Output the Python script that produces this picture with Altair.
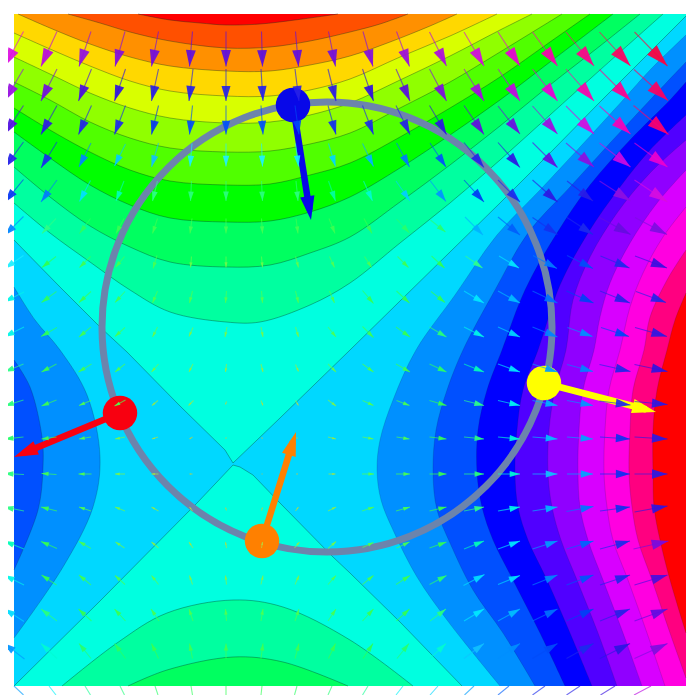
import math
import altair as alt
import pandas as pd

LEFT, RIGHT, TOP, BOTTOM = 14, 686, 14, 686
XS = alt.Scale(domain=[8, 692], nice=False, zero=False)
YS = alt.Scale(domain=[695, 8], nice=False, zero=False)

BASE_COLOR = "#00d8ff"

# contour levels hanging from the top edge: (colour, [(x, y), ...])
TOP_LEVELS = [
    ("#00ffe0", "linear", [(14,240),(60,287),(100,327),(127,352),(180,406),(225,450),(233,463),(280,418),(350,350),(400,301),(450,252),(500,203),(550,153),(600,102),(650,52),(686,16)]),
    ("#00ffa0", "catmull-rom", [(14,203),(50,233),(90,262),(130,290),(170,312),(226,322),(260,322),(310,305),(350,283),(400,243),(450,203),(500,160),(550,115),(600,70),(663,14)]),
    ("#00ff60", "catmull-rom", [(14,167),(50,197),(90,226),(130,247),(170,262),(226,267),(270,265),(310,253),(350,237),(400,202),(450,165),(500,126),(550,85),(600,46),(640,14)]),
    ("#00ff00", "catmull-rom", [(14,132),(50,158),(90,185),(130,205),(170,218),(226,222),(270,221),(310,212),(350,197),(400,168),(450,135),(500,100),(550,62),(613,14)]),
    ("#50ff00", "catmull-rom", [(14,108),(50,130),(90,152),(130,170),(170,181),(226,185),(270,184),(310,175),(350,163),(400,137),(450,108),(500,77),(550,42),(590,14)]),
    ("#90ff00", "catmull-rom", [(14,82),(50,100),(90,122),(130,138),(170,148),(226,152),(270,151),(310,144),(350,133),(400,108),(450,82),(500,52),(562,14)]),
    ("#d8ff00", "catmull-rom", [(14,57),(50,74),(90,93),(130,108),(170,118),(226,123),(270,122),(310,115),(350,103),(400,80),(450,56),(500,30),(532,14)]),
    ("#ffd800", "catmull-rom", [(14,33),(50,49),(90,66),(130,81),(170,91),(226,96),(270,96),(310,90),(350,79),(400,57),(450,36),(497,14)]),
    ("#ff9000", "catmull-rom", [(18,14),(50,28),(90,44),(130,57),(170,66),(226,71),(270,71),(310,65),(350,56),(390,42),(430,26),(457,14)]),
    ("#ff5000", "catmull-rom", [(68,14),(100,23),(130,32),(170,41),(226,48),(270,47),(310,41),(350,32),(380,24),(408,14)]),
    ("#ff0000", "catmull-rom", [(138,14),(170,20),(200,23),(226,25),(260,24),(295,20),(338,14)]),
]

# contour levels standing on the bottom edge
BOTTOM_LEVELS = [
    ("#00ffe0", "linear", [(14,686),(100,601),(197,503),(233,465),(240,467),(253,475),(280,503),(333,557),(350,573),(400,622),(462,686)]),
    ("#00ffa0", "catmull-rom", [(62,686),(117,643),(167,613),(233,600),(283,607),(350,640),(413,686)]),
    ("#00ff60", "catmull-rom", [(128,686),(167,670),(233,657),(283,662),(348,686)]),
]

# contour levels reaching to the right edge: (colour, [(x, y), ...])
RIGHT_LEVELS = [
    ("#0090ff", [(686,35),(650,70),(623,100),(580,147),(540,190),(497,235),(455,295),(416,350),(393,400),(380,440),(377,470),(381,500),(393,530),(417,577),(447,620),(473,653),(500,686)]),
    ("#0050ff", [(686,62),(650,100),(610,143),(570,187),(528,233),(495,290),(463,350),(447,390),(436,430),(433,473),(437,510),(450,543),(473,590),(503,633),(535,686)]),
    ("#0000ff", [(686,82),(670,100),(630,140),(590,185),(557,233),(525,290),(502,350),(487,390),(478,430),(477,473),(482,507),(493,540),(513,580),(540,633),(565,686)]),
    ("#5000ff", [(686,115),(650,150),(620,187),(588,233),(560,285),(538,350),(523,390),(517,430),(515,473),(518,507),(528,540),(547,580),(570,633),(592,686)]),
    ("#9000ff", [(686,140),(650,173),(617,213),(590,257),(573,300),(566,350),(555,390),(549,430),(548,473),(552,507),(561,540),(577,580),(598,633),(617,686)]),
    ("#d800ff", [(686,170),(657,203),(630,243),(610,283),(600,317),(594,350),(583,390),(579,430),(578,473),(580,507),(588,540),(603,580),(623,633),(642,686)]),
    ("#ff00e0", [(686,207),(663,237),(643,273),(630,307),(620,350),(609,390),(605,430),(604,473),(607,507),(613,540),(628,580),(647,633),(665,686)]),
    ("#ff0080", [(686,250),(667,280),(650,317),(644,350),(633,390),(630,430),(629,473),(632,507),(638,540),(652,580),(670,633),(686,678)]),
    ("#ff0000", [(686,293),(675,320),(667,350),(657,390),(653,430),(653,473),(654,507),(660,540),(670,580),(686,633)]),
]

# contour levels reaching to the left edge
LEFT_LEVELS = [
    ("#0090ff", [(14,287),(35,320),(60,350),(87,395),(100,457),(93,507),(63,567),(14,638)]),
    ("#0050ff", [(14,360),(30,387),(42,437),(43,467),(38,510),(14,570)]),
]

RING = {"x": 327, "y": 327, "diameter": 450}

# the four large arrows: ball position, arrow tip, colour
BIG_X = [293, 120, 262, 544]
BIG_Y = [105, 413, 541, 383]
TIP_X = [311, 14, 296, 656]
TIP_Y = [220, 457, 432, 412]
BIG_COLOR = ["#0808e8", "#f80010", "#ff8000", "#ffff00"]

GRID_X = [14,49,85,120,155,191,226,262,297,332,368,403,438,474,509,545,580,615,651]
GRID_Y = [49,85,120,155,191,226,262,297,332,368,403,438,474,509,545,580,615,651]

DX = [
 [-19,-16,-12,-10,-7,-3,0,1,3,7,10,13,17,20,22,25,28,31,33],
 [-19,-16,-13,-11,-7,-4,0,2,4,8,11,14,17,20,22,25,28,31,34],
 [-19,-16,-13,-11,-7,-3,0,2,4,8,11,14,17,20,22,25,28,31,35],
 [-19,-16,-12,-11,-7,-2,0,1,3,7,11,13,16,20,22,25,28,31,33],
 [-19,-16,-11,-8,-5,-1,0,1,2,7,9,14,16,20,22,25,26,31,33],
 [-19,-14,-11,-8,-5,-2,0,1,2,6,8,13,15,18,22,25,26,31,32],
 [-19,-14,-11,-9,-4,-1,0,1,3,5,7,11,13,17,20,24,26,29,32],
 [-20,-15,-12,-10,-5,-3,-1,1,3,5,11,13,14,20,22,25,27,30,30],
 [-20,-16,-12,-10,-5,-4,-2,2,3,8,11,14,17,20,22,25,25,28,32],
 [-19,-15,-13,-10,-7,-4,-1,2,3,8,11,14,17,20,22,25,26,31,33],
 [-19,-15,-12,-11,-6,-5,-1,2,3,8,11,13,17,20,22,25,26,31,33],
 [-19,-15,-12,-10,-6,-3,-1,1,1,8,11,13,17,20,22,25,26,30,33],
 [-20,-15,-13,-10,-7,-3,0,1,2,7,12,14,17,20,22,25,26,30,33],
 [-20,-16,-12,-10,-7,-3,-1,1,3,8,12,14,17,20,22,25,27,30,33],
 [-20,-16,-12,-9,-7,-4,-1,1,5,8,11,13,17,20,22,25,27,30,35],
 [-20,-15,-12,-10,-7,-3,-1,2,4,8,11,14,17,21,22,25,27,30,33],
 [-20,-16,-13,-11,-8,-4,-1,2,4,8,11,13,16,20,22,25,27,30,33],
 [-21,-16,-12,-11,-7,-3,0,2,4,7,10,12,16,20,22,25,27,30,33],
]
DY = [
 [35,35,35,35,35,35,35,35,35,35,35,35,34,34,34,34,34,34,34],
 [32,32,32,32,32,32,32,32,32,32,32,32,32,32,32,32,32,31,31],
 [29,29,29,29,29,29,29,29,29,29,29,29,29,29,28,28,28,28,29],
 [26,26,24,22,24,23,23,23,23,23,23,24,24,25,25,25,24,24,24],
 [23,22,21,20,20,20,20,20,20,20,20,20,21,22,22,22,20,20,22],
 [19,15,15,15,15,15,15,15,15,15,15,14,12,18,18,17,17,17,17],
 [13,11,11,11,13,11,11,11,11,11,11,11,12,12,12,13,13,12,12],
 [10,11,11,11,12,12,12,12,12,12,13,12,11,12,12,12,12,12,11],
 [10,9,10,9,10,9,10,10,10,10,11,10,10,10,10,10,9,9,9],
 [8,8,8,8,8,8,8,8,7,8,8,8,8,8,8,8,7,7,7],
 [6,6,5,6,5,5,3,5,5,6,5,5,5,5,5,5,5,4,3],
 [2,2,2,2,2,2,1,1,1,2,2,2,2,2,2,2,2,2,2],
 [-1,-1,0,0,0,0,0,0,0,0,0,0,0,0,0,0,0,0,0],
 [-4,-4,-4,-4,-4,-4,-3,-3,-4,-4,-4,-4,-4,-4,-4,-4,-5,-4,-6],
 [-8,-7,-7,-6,-6,-6,-6,-6,-6,-7,-5,-6,-6,-8,-8,-8,-8,-8,-8],
 [-10,-10,-10,-9,-9,-9,-9,-9,-9,-9,-9,-9,-9,-11,-9,-10,-10,-10,-10],
 [-13,-12,-12,-12,-12,-12,-12,-12,-12,-12,-12,-12,-12,-12,-12,-12,-12,-12,-12],
 [-16,-15,-15,-15,-15,-15,-15,-15,-15,-15,-15,-15,-15,-15,-15,-15,-15,-15,-15],
]
# bottom row sits on the edge: only the part below the field shows
EDGE_DX = [-19,-14,-11,-9,-6,-3,0,2,5,8,11,14,16,19,22,25,27,29,34]
EDGE_DY = -18

LEN_DOMAIN = [0, 6, 12, 18, 21, 23, 25, 27, 30, 34, 37, 40, 43, 48]
LEN_COLORS = ["#d0c040", "#b0e040", "#50ff50", "#30ff50", "#30ff90", "#20f0ff", "#10c0ff", "#1080ff",
              "#1030f0", "#3010e0", "#9010e0", "#e010e0", "#ff10a0", "#ff0030"]
LEN_SCALE = alt.Scale(domain=LEN_DOMAIN, range=LEN_COLORS, clamp=True)
HEAD = "M0,-1L0.6,1L-0.6,1Z"

layers = [
    alt.Chart(pd.DataFrame({"a": [LEFT], "b": [RIGHT], "c": [TOP], "d": [BOTTOM]})).mark_rect(color=BASE_COLOR).encode(
        x=alt.X("a:Q", scale=XS, axis=None), x2="b:Q",
        y=alt.Y("c:Q", scale=YS, axis=None), y2="d:Q")
]


def vertical(color, interp, pts, edge):
    df = pd.DataFrame(pts, columns=["x", "y"])
    df["e"] = edge
    df["i"] = range(len(df))
    area = alt.Chart(df).mark_area(color=color, orient="vertical", interpolate=interp, opacity=1).encode(
        x=alt.X("x:Q", scale=XS, axis=None),
        y=alt.Y("y:Q", scale=YS, axis=None), y2="e:Q")
    line = alt.Chart(df).mark_line(color="#003020", strokeOpacity=0.45, strokeWidth=0.8, interpolate=interp).encode(
        x=alt.X("x:Q", scale=XS, axis=None),
        y=alt.Y("y:Q", scale=YS, axis=None), order="i:Q")
    return [area, line]


def horizontal(color, pts, edge, alpha):
    df = pd.DataFrame(pts, columns=["x", "y"])
    df["e"] = edge
    df["i"] = range(len(df))
    area = alt.Chart(df).mark_area(color=color, orient="horizontal", interpolate="catmull-rom", opacity=1).encode(
        x=alt.X("x:Q", scale=XS, axis=None), x2="e:Q",
        y=alt.Y("y:Q", scale=YS, axis=None))
    line = alt.Chart(df).mark_line(color="#002040", strokeOpacity=alpha, strokeWidth=0.8, interpolate="catmull-rom").encode(
        x=alt.X("x:Q", scale=XS, axis=None),
        y=alt.Y("y:Q", scale=YS, axis=None), order="i:Q")
    return [area, line]


for c, interp, pts in TOP_LEVELS:
    layers += vertical(c, interp, pts, TOP)
for c, interp, pts in BOTTOM_LEVELS:
    layers += vertical(c, interp, pts, BOTTOM)
for c, pts in RIGHT_LEVELS:
    layers += horizontal(c, pts, RIGHT, 0.2)
for c, pts in LEFT_LEVELS:
    layers += horizontal(c, pts, LEFT, 0.3)

# ring
layers.append(alt.Chart(pd.DataFrame([RING])).mark_point(
    filled=False, stroke="#6c84ac", strokeWidth=7, opacity=1, size=RING["diameter"] ** 2).encode(
    x=alt.X("x:Q", scale=XS, axis=None), y=alt.Y("y:Q", scale=YS, axis=None)))

# big arrows and balls
big = []
for bx, by, tx, ty, c in zip(BIG_X, BIG_Y, TIP_X, TIP_Y, BIG_COLOR):
    d = math.hypot(tx - bx, ty - by)
    ux, uy = (tx - bx) / d, (ty - by) / d
    big.append({"bx": bx, "by": by, "tx": tx - ux * 10, "ty": ty - uy * 10,
                "hx": tx - ux * 12, "hy": ty - uy * 12,
                "a": (math.degrees(math.atan2(ux, -uy)) + 360) % 360, "c": c})
big_df = pd.DataFrame(big)
layers.append(alt.Chart(big_df).mark_rule(strokeWidth=6.5).encode(
    x=alt.X("bx:Q", scale=XS, axis=None), y=alt.Y("by:Q", scale=YS, axis=None),
    x2="tx:Q", y2="ty:Q", color=alt.Color("c:N", scale=None)))
layers.append(alt.Chart(big_df).mark_point(shape=HEAD, filled=True, opacity=1, size=576, strokeWidth=0).encode(
    x=alt.X("hx:Q", scale=XS, axis=None), y=alt.Y("hy:Q", scale=YS, axis=None),
    angle=alt.Angle("a:Q", scale=None), color=alt.Color("c:N", scale=None)))
layers.append(alt.Chart(big_df).mark_circle(size=1190, opacity=1).encode(
    x=alt.X("bx:Q", scale=XS, axis=None), y=alt.Y("by:Q", scale=YS, axis=None),
    color=alt.Color("c:N", scale=None)))

# small arrows
rows = []
for j, gy in enumerate(GRID_Y):
    for i, gx in enumerate(GRID_X):
        dx, dy = DX[j][i], DY[j][i]
        m = math.hypot(dx, dy)
        if m == 0:
            continue
        hl = 0.47 * m
        rows.append({"x0": gx - dx / 2, "y0": gy - dy / 2, "x1": gx + dx / 2, "y1": gy + dy / 2,
                     "hx": gx + dx / 2 - dx / m * hl / 2, "hy": gy + dy / 2 - dy / m * hl / 2,
                     "m": m, "s": hl * hl, "a": (math.degrees(math.atan2(dx, -dy)) + 360) % 360})
arrows = pd.DataFrame(rows)
edge = []
for gx, dx in zip(GRID_X, EDGE_DX):
    m = math.hypot(dx, EDGE_DY)
    edge.append({"x0": gx - dx / 2, "y0": BOTTOM - EDGE_DY / 2, "x1": gx, "y1": BOTTOM, "m": m})
edge = pd.DataFrame(edge)
for df in (arrows, edge):
    layers.append(alt.Chart(df).mark_rule(strokeWidth=1.1, opacity=0.65).encode(
        x=alt.X("x0:Q", scale=XS, axis=None), y=alt.Y("y0:Q", scale=YS, axis=None),
        x2="x1:Q", y2="y1:Q", color=alt.Color("m:Q", scale=LEN_SCALE, legend=None)))
layers.append(alt.Chart(arrows).mark_point(shape=HEAD, filled=True, opacity=0.92, strokeWidth=0).encode(
    x=alt.X("hx:Q", scale=XS, axis=None), y=alt.Y("hy:Q", scale=YS, axis=None),
    size=alt.Size("s:Q", scale=None, legend=None), angle=alt.Angle("a:Q", scale=None),
    color=alt.Color("m:Q", scale=LEN_SCALE, legend=None)))

chart = alt.layer(*layers).properties(
    width=684, height=687, padding=0, background="white",
    autosize=alt.AutoSizeParams(type="none")).configure_view(stroke=None)
chart.save("out.html", embed_options={"renderer": "svg", "actions": False})
